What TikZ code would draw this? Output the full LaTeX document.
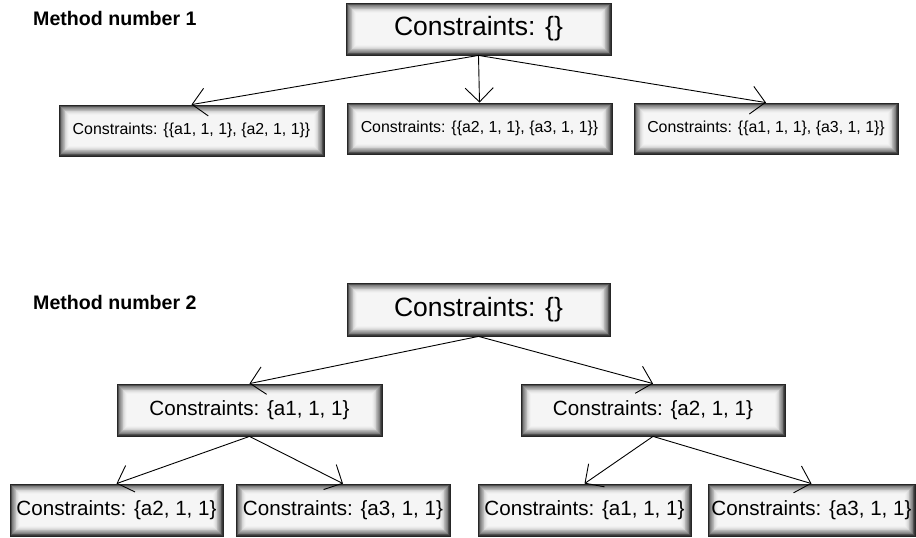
\documentclass[tikz,border=0pt]{standalone}
\usepackage{fontspec}
\setmainfont{Liberation Sans}
\usetikzlibrary{arrows.meta}

\tikzset{
  % box with a dark rim and a soft inner glow fading to a pale centre
  gbox/.style={
    draw=black!85, line width=0.8pt, inner sep=0pt,
    path picture={
      \foreach \i in {0,...,12} {
        \pgfmathsetmacro\pct{4+74*(1-\i/12)^1.6}
        \fill[black!\pct]
          ([shift={(\i*0.8pt,\i*0.8pt)}]path picture bounding box.south west)
          rectangle
          ([shift={(-\i*0.8pt,-\i*0.8pt)}]path picture bounding box.north east);
      }
    }},
  bigbox/.style={gbox, font=\fontsize{26.5}{30}\selectfont},
  smallbox/.style={gbox, font=\fontsize{15.9}{18}\selectfont},
  midbox/.style={gbox, font=\fontsize{20.6}{24}\selectfont},
  heading/.style={anchor=base west, inner sep=0pt, font=\fontsize{19.6}{22}\selectfont\bfseries},
  arr/.style={line width=0.9pt, -{Straight Barb[length=14pt,width=28pt,line width=0.9pt]}},
}

\begin{document}
\begin{tikzpicture}[x=1pt,y=-1pt]
  \useasboundingbox (0,0) rectangle (916,538);

  % ---- first method: all pairs at one level ----
  \node[heading] (h1) at (33,25) {Method number 1};
  \node[bigbox, minimum width=265pt, minimum height=52pt] (r1) at (478.5,29) {Constraints: \{\}};
  \node[smallbox, minimum width=265pt, minimum height=51pt] (a1) at (191.5,130.5) {Constraints: \{\{a1, 1, 1\}, \{a2, 1, 1\}\}};
  \node[smallbox, minimum width=265pt, minimum height=51pt] (a2) at (479.5,128.5) {Constraints: \{\{a2, 1, 1\}, \{a3, 1, 1\}\}};
  \node[smallbox, minimum width=264pt, minimum height=51pt] (a3) at (766,128.5) {Constraints: \{\{a1, 1, 1\}, \{a3, 1, 1\}\}};

  \draw[arr] (r1.south) -- (a1.north);
  \draw[arr] (r1.south) -- (a2.north);
  \draw[arr] (r1.south) -- (a3.north);

  % ---- second method: one constraint per level ----
  \node[heading] (h2) at (33,309) {Method number 2};
  \node[bigbox, minimum width=263pt, minimum height=53pt] (r2) at (478.5,309.5) {Constraints: \{\}};
  \node[midbox, minimum width=265pt, minimum height=52pt] (b1) at (249.5,410) {Constraints: \{a1, 1, 1\}};
  \node[midbox, minimum width=264pt, minimum height=52pt] (b2) at (653,410) {Constraints: \{a2, 1, 1\}};
  \node[midbox, minimum width=213pt, minimum height=52pt] (c1) at (116.5,510) {Constraints: \{a2, 1, 1\}};
  \node[midbox, minimum width=214pt, minimum height=52pt] (c2) at (343,510) {Constraints: \{a3, 1, 1\}};
  \node[midbox, minimum width=213pt, minimum height=52pt] (c3) at (584.5,510) {Constraints: \{a1, 1, 1\}};
  \node[midbox, minimum width=207pt, minimum height=52pt] (c4) at (811.5,510) {Constraints: \{a3, 1, 1\}};

  \draw[arr] (r2.south) -- (b1.north);
  \draw[arr] (r2.south) -- (b2.north);
  \draw[arr] (b1.south) -- (c1.north);
  \draw[arr] (b1.south) -- (c2.north);
  \draw[arr] (b2.south) -- (c3.north);
  \draw[arr] (b2.south) -- (c4.north);
\end{tikzpicture}
\end{document}
